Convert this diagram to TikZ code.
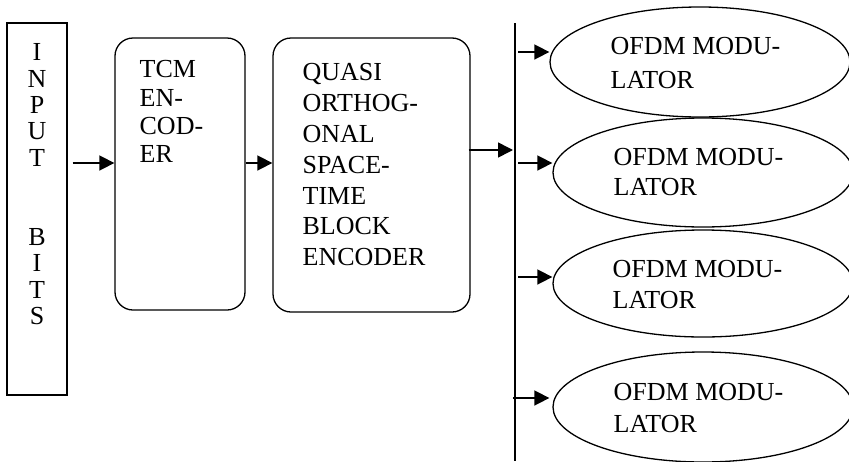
\documentclass[tikz,border=0pt]{standalone}
\usepackage{fontspec}
\setmainfont{Liberation Serif}
\usetikzlibrary{arrows.meta,shapes.geometric}
\begin{document}
\begin{tikzpicture}[x=1pt,y=-1pt,line width=1.3pt,
  sqbox/.style={draw,inner sep=0pt},
  rbox/.style={draw,rounded corners=18pt,inner sep=0pt},
  ov/.style={draw,ellipse,inner sep=0pt,minimum width=300pt,minimum height=110pt},
  txt/.style={inner sep=0pt,anchor=north west,align=left},
  arr/.style={line width=1.6pt,-{Triangle[length=15pt,width=15pt]}}]
\useasboundingbox (0,0) rectangle (849,461);
\clip (0,0) rectangle (849,461);
% blocks
\node[sqbox,minimum width=60pt,minimum height=372pt] (inp) at (37,209) {};
\node[rbox,minimum width=130pt,minimum height=272pt] (tcm) at (180,174) {};
\node[rbox,minimum width=197pt,minimum height=274pt] (qo) at (371.5,175) {};
\node[ov,minimum height=110pt] (e1) at (700,62) {};
\node[ov,minimum height=109pt] (e2) at (703,172.5) {};
\node[ov,minimum height=107pt] (e3) at (703,283.5) {};
\node[ov,minimum height=110pt] (e4) at (703,407) {};
% texts
\node[inner sep=0pt,anchor=north,align=center,font=\fontsize{26}{26.4}\selectfont] (tinp) at (37,43)
  {I\\N\\P\\U\\T\\[52.8pt]B\\I\\T\\S};
\node[txt,font=\fontsize{26}{28.3}\selectfont] (ttcm) at (139,60) {TCM\\EN-\\COD-\\ER};
\node[txt,font=\fontsize{26}{30.8}\selectfont] (tqo) at (302,63)
  {QUASI\\ORTHOG-\\ONAL\\SPACE-\\TIME\\BLOCK\\ENCODER};
\node[txt,font=\fontsize{26}{34}\selectfont] (te1) at (610,37) {OFDM MODU-\\LATOR};
\node[txt,font=\fontsize{26}{30}\selectfont] (te2) at (613,148) {OFDM MODU-\\LATOR};
\node[txt,font=\fontsize{26}{30.7}\selectfont] (te3) at (612,260) {OFDM MODU-\\LATOR};
\node[txt,font=\fontsize{26}{31.7}\selectfont] (te4) at (613,383) {OFDM MODU-\\LATOR};
% bus
\coordinate (bt) at (515,23);
\coordinate (bb) at (515,461);
\draw (bt) -- (bb);
% arrow levels
\coordinate (y1) at (0,163);
\coordinate (y2) at (0,150);
\coordinate (b1) at (518,52);
\coordinate (b2) at (518,163);
\coordinate (b3) at (518,277);
\coordinate (b4) at (513,398);
% connectors
\draw[arr] ([xshift=5pt]inp.east |- y1) -- (tcm.west |- y1);
\draw[arr] (tcm.east |- y1) -- (qo.west |- y1);
\draw[arr] ([xshift=-2pt]qo.east |- y2) -- ([xshift=-2pt]bt |- y2);
\draw[arr] (b1) -- (b1 -| e1.west);
\draw[arr] (b2) -- (b2 -| e2.west);
\draw[arr] (b3) -- (b3 -| e3.west);
\draw[arr] (b4) -- ([xshift=-3pt]b4 -| e4.west);
\end{tikzpicture}
\end{document}
